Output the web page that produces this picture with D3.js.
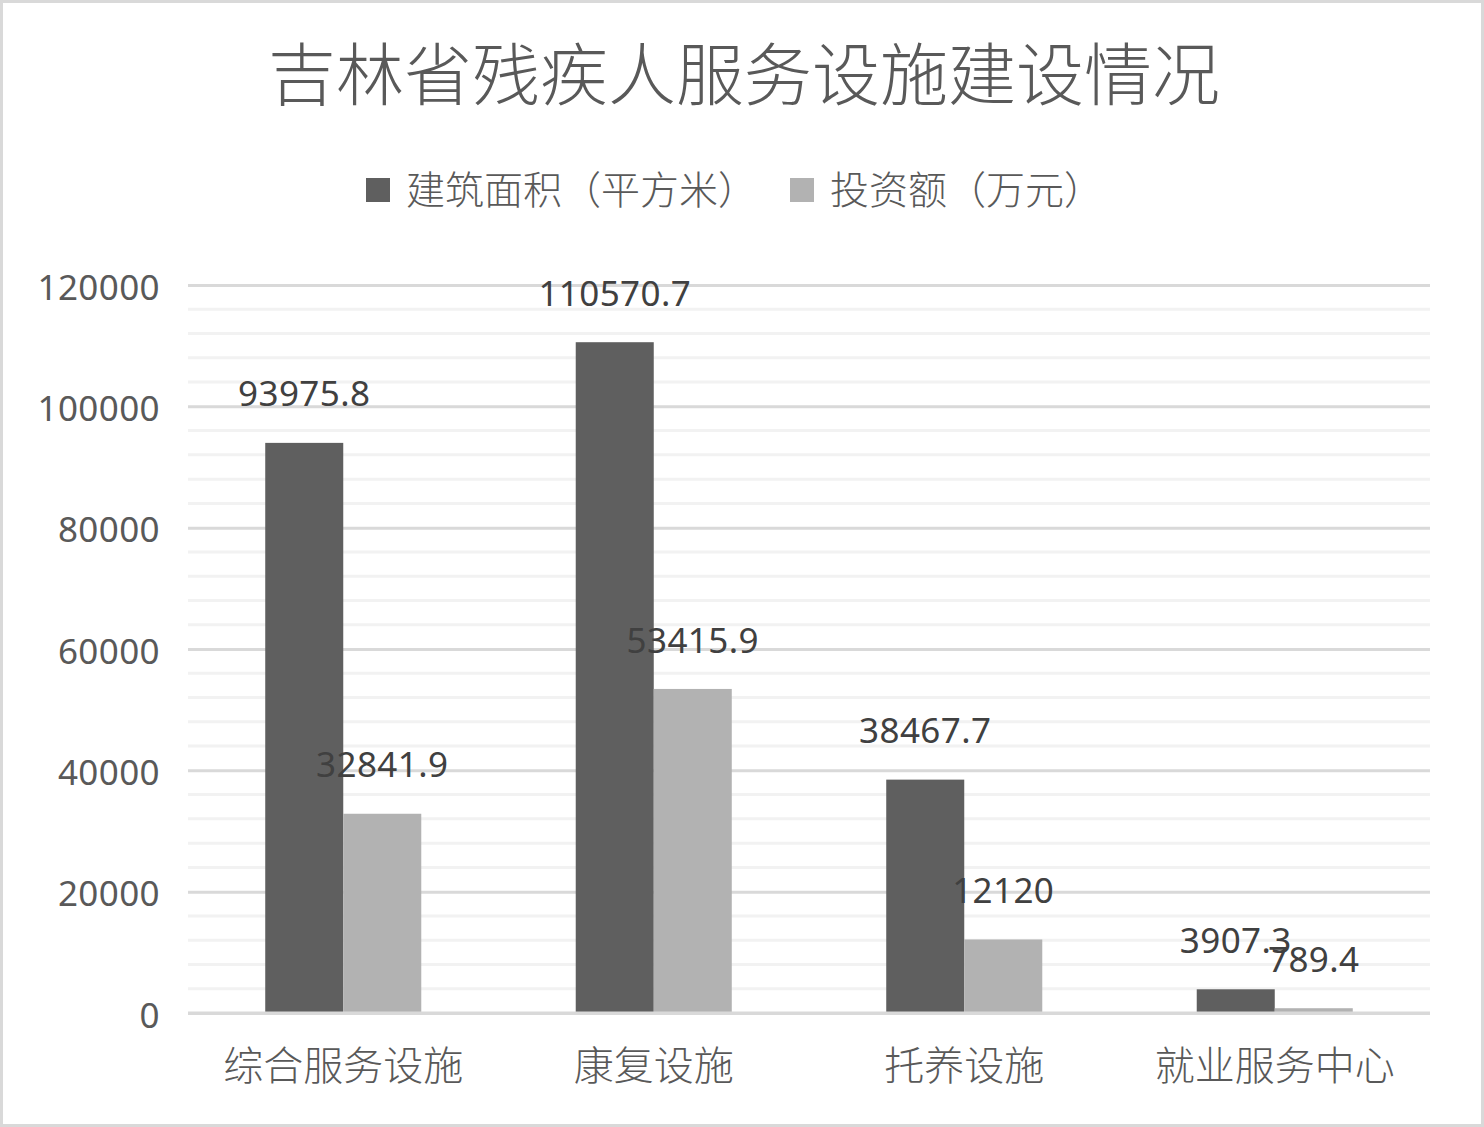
<!DOCTYPE html>
<html>
<head>
<meta charset="utf-8">
<script src="https://d3js.org/d3.v7.min.js"></script>
<style>
  html, body { margin: 0; padding: 0; background: #fff; }
</style>
</head>
<body>
<div class="chart"></div>
<script>
    const categories = ['综合服务设施', '康复设施', '托养设施', '就业服务中心'];
    const seriesNames = ['建筑面积（平方米）', '投资额（万元）'];
    const areaValues = [93975.8, 110570.7, 38467.7, 3907.3];
    const investValues = [32841.9, 53415.9, 12120, 789.4];
    const yTicks = [0, 20000, 40000, 60000, 80000, 100000, 120000];
    const colors = ['#5f5f5f', '#b2b2b2'];

    const width = 1484, height = 1127;
    const plot = { left: 188, right: 1430, top: 285, bottom: 1013 };
    const cjk = '"Noto Sans CJK SC", sans-serif';
    const num = '"Noto Sans", "Open Sans", sans-serif';

    const svg = d3.select('.chart')
        .append('svg')
        .attr('width', width)
        .attr('height', height);

    // outer border
    svg.append('rect')
        .attr('x', 1.5).attr('y', 1.5)
        .attr('width', width - 3).attr('height', height - 3)
        .attr('fill', '#fff')
        .attr('stroke', '#d9d9d9')
        .attr('stroke-width', 3);

    const xScale = d3.scaleBand()
        .domain(categories)
        .range([plot.left, plot.right]);

    const inner = d3.scaleBand()
        .domain([0, 1])
        .range([0, xScale.bandwidth()])
        .paddingOuter(0.99);

    const yScale = d3.scaleLinear()
        .domain([0, 120000])
        .range([plot.bottom, plot.top]);

    // minor gridlines
    svg.append('g')
        .selectAll('line')
        .data(d3.range(4000, 120000, 4000).filter(v => v % 20000 !== 0))
        .join('line')
        .attr('x1', plot.left).attr('x2', plot.right)
        .attr('y1', d => yScale(d)).attr('y2', d => yScale(d))
        .attr('stroke', '#f2f2f2')
        .attr('stroke-width', 3);

    // major gridlines + y labels
    const yAxis = d3.axisLeft(yScale)
        .tickValues(yTicks)
        .tickSize(-(plot.right - plot.left))
        .tickPadding(28)
        .tickFormat(d => d);
    const yg = svg.append('g')
        .attr('transform', `translate(${plot.left},0)`)
        .call(yAxis);
    yg.select('.domain').remove();
    yg.selectAll('.tick line').attr('stroke', '#d9d9d9').attr('stroke-width', 3);
    yg.selectAll('.tick text')
        .attr('fill', '#595959')
        .attr('dy', '0.4em')
        .style('font-family', num)
        .style('font-size', '35px')
        .style('letter-spacing', '0.4px');

    // bars
    const groups = svg.append('g')
        .selectAll('g')
        .data(categories.map((c, i) => ({ c, vals: [areaValues[i], investValues[i]] })))
        .join('g')
        .attr('transform', d => `translate(${xScale(d.c)},0)`);

    groups.selectAll('rect')
        .data(d => d.vals.map((v, k) => ({ v, k })))
        .join('rect')
        .attr('x', d => inner(d.k))
        .attr('width', inner.bandwidth())
        .attr('y', d => yScale(d.v))
        .attr('height', d => plot.bottom - yScale(d.v))
        .attr('fill', d => colors[d.k]);

    groups.selectAll('text')
        .data(d => d.vals.map((v, k) => ({ v, k })))
        .join('text')
        .attr('x', d => inner(d.k) + inner.bandwidth() / 2)
        .attr('y', d => yScale(d.v) - 49)
        .attr('dy', '0.36em')
        .attr('text-anchor', 'middle')
        .attr('fill', '#404040')
        .style('font-family', num)
        .style('font-size', '35px')
        .style('letter-spacing', '0.4px')
        .text(d => d.v);

    // x axis line
    svg.append('line')
        .attr('x1', plot.left).attr('x2', plot.right)
        .attr('y1', plot.bottom).attr('y2', plot.bottom)
        .attr('stroke', '#d9d9d9')
        .attr('stroke-width', 3);

    // x labels
    svg.append('g')
        .selectAll('text')
        .data(categories)
        .join('text')
        .attr('x', d => xScale(d) + xScale.bandwidth() / 2)
        .attr('y', 1066)
        .attr('dy', '0.35em')
        .attr('text-anchor', 'middle')
        .attr('fill', '#595959')
        .style('font-family', cjk)
        .style('font-weight', 300)
        .style('font-size', '40px')
        .text(d => d);

    // title
    svg.append('text')
        .attr('x', 744)
        .attr('y', 76)
        .attr('dy', '0.35em')
        .attr('text-anchor', 'middle')
        .attr('fill', '#595959')
        .style('font-family', cjk)
        .style('font-weight', 300)
        .style('font-size', '68px')
        .text('吉林省残疾人服务设施建设情况');

    // legend
    const legendX = [366, 790];
    const legend = svg.append('g')
        .selectAll('g')
        .data(seriesNames)
        .join('g')
        .attr('transform', (d, i) => `translate(${legendX[i]},190)`);
    legend.append('rect')
        .attr('x', 0).attr('y', -12)
        .attr('width', 24).attr('height', 24)
        .attr('fill', (d, i) => colors[i]);
    legend.append('text')
        .attr('x', 40)
        .attr('dy', '0.35em')
        .attr('fill', '#595959')
        .style('font-family', cjk)
        .style('font-weight', 300)
        .style('font-size', '39px')
        .text(d => d);
</script>
</body>
</html>
